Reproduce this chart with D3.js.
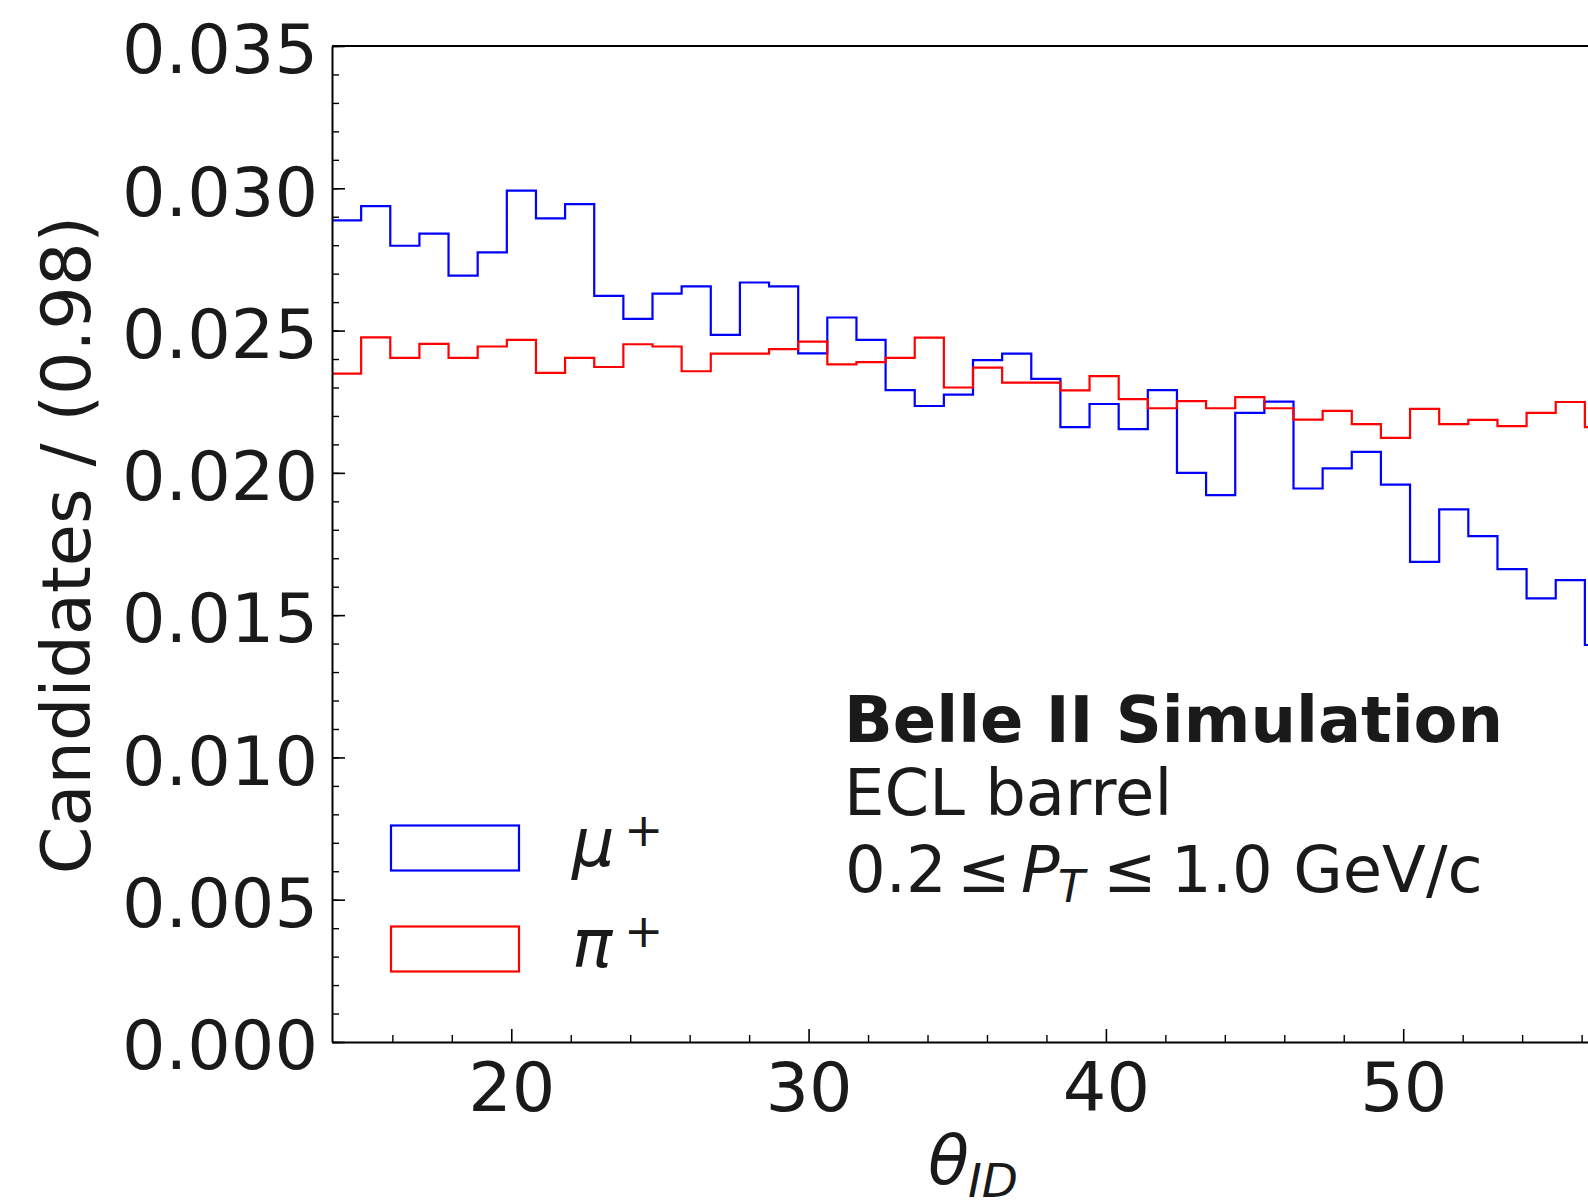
<!DOCTYPE html>
<html>
<head>
<meta charset="utf-8">
<script src="https://cdn.jsdelivr.net/npm/d3@7"></script>
<style>
  body { margin: 0; background: #fff; }
  svg { display: block; font-family: "DejaVu Sans", sans-serif; }
</style>
</head>
<body>
<div id="chart"></div>
<script>
// histogram binning (theta_ID, bin width 0.98)
const binStart = 13.97;
const binWidth = 0.98;

// normalised candidates per bin
const muValues = [
  0.02887, 0.02937, 0.02798, 0.02841, 0.02693, 0.02775, 0.02992, 0.02894, 0.02944, 0.02622,
  0.02541, 0.02630, 0.02655, 0.02485, 0.02669, 0.02655, 0.02420, 0.02546, 0.02467, 0.02291,
  0.02235, 0.02275, 0.02396, 0.02419, 0.02330, 0.02161, 0.02242, 0.02154, 0.02291, 0.02000,
  0.01922, 0.02211, 0.02250, 0.01945, 0.02016, 0.02074, 0.01959, 0.01687, 0.01872, 0.01778,
  0.01662, 0.01559, 0.01623, 0.01395
];
const piValues = [
  0.02349, 0.02476, 0.02404, 0.02453, 0.02404, 0.02444, 0.02467, 0.02351, 0.02404, 0.02372,
  0.02452, 0.02444, 0.02357, 0.02419, 0.02419, 0.02435, 0.02461, 0.02381, 0.02389, 0.02404,
  0.02475, 0.02300, 0.02370, 0.02317, 0.02317, 0.02290, 0.02340, 0.02259, 0.02227, 0.02252,
  0.02227, 0.02266, 0.02227, 0.02187, 0.02218, 0.02171, 0.02123, 0.02225, 0.02171, 0.02186,
  0.02164, 0.02211, 0.02249, 0.02161
];

const xTicks = [20, 30, 40, 50];
const xMinorTicks = [16, 18, 22, 24, 26, 28, 32, 34, 36, 38, 42, 44, 46, 48, 52, 54, 56];
const yTicks = [0, 0.005, 0.010, 0.015, 0.020, 0.025, 0.030, 0.035];
const yMinorTicks = d3.range(0, 0.0351, 0.001);

const series = [
  { name: "mu", values: muValues, color: "#0000ff" },
  { name: "pi", values: piValues, color: "#ff0000" }
];

const width = 1588, height = 1203;
const plot = { left: 332, right: 1614, top: 46, bottom: 1042 };
const fontSize = 68.5;   // tick labels + y title
const noteSize = 64;     // annotation block

const svg = d3.select("#chart").append("svg")
  .attr("width", width)
  .attr("height", height);

const nBins = muValues.length;
const x = d3.scaleLinear()
  .domain([binStart, binStart + nBins * binWidth])
  .range([plot.left, plot.right]);
const y = d3.scaleLinear()
  .domain([0, 0.035])
  .range([plot.bottom, plot.top]);

// step histograms
const line = d3.line()
  .x(d => x(d[0]))
  .y(d => y(d[1]))
  .curve(d3.curveStepAfter);

series.forEach(s => {
  const pts = s.values.map((v, i) => [binStart + i * binWidth, v]);
  pts.push([binStart + nBins * binWidth, s.values[nBins - 1]]);
  svg.append("path")
    .datum(pts)
    .attr("fill", "none")
    .attr("stroke", s.color)
    .attr("stroke-width", 2.2)
    .attr("d", line);
});

// minor ticks (inward)
svg.append("g")
  .attr("transform", `translate(0,${plot.bottom})`)
  .call(d3.axisBottom(x).tickValues(xMinorTicks).tickSizeInner(-7).tickSizeOuter(0).tickFormat(""))
  .call(g => g.select(".domain").remove())
  .call(g => g.selectAll("line").attr("stroke", "#000").attr("stroke-width", 1.4));

svg.append("g")
  .attr("transform", `translate(${plot.left},0)`)
  .call(d3.axisLeft(y).tickValues(yMinorTicks).tickSizeInner(-7).tickSizeOuter(0).tickFormat(""))
  .call(g => g.select(".domain").remove())
  .call(g => g.selectAll("line").attr("stroke", "#000").attr("stroke-width", 1.4));

// major ticks + labels
const xAxisG = svg.append("g")
  .attr("transform", `translate(0,${plot.bottom})`)
  .call(d3.axisBottom(x).tickValues(xTicks).tickSizeInner(-13).tickSizeOuter(0).tickPadding(20));
xAxisG.selectAll("line").attr("stroke", "#000").attr("stroke-width", 1.6);
xAxisG.selectAll("text")
  .attr("fill", "#1a1a1a")
  .attr("font-size", fontSize)
  .attr("font-family", "DejaVu Sans");

const yAxisG = svg.append("g")
  .attr("transform", `translate(${plot.left},0)`)
  .call(d3.axisLeft(y).tickValues(yTicks).tickFormat(d3.format(".3f")).tickSizeInner(-13).tickSizeOuter(0).tickPadding(14));
yAxisG.selectAll("line").attr("stroke", "#000").attr("stroke-width", 1.6);
yAxisG.selectAll("text")
  .attr("fill", "#1a1a1a")
  .attr("font-size", fontSize)
  .attr("font-family", "DejaVu Sans")
  .attr("dy", "0.39em");

svg.selectAll(".domain").attr("stroke", "#000").attr("stroke-width", 2);

// top and right spines
svg.append("line")
  .attr("x1", plot.left).attr("x2", plot.right)
  .attr("y1", plot.top).attr("y2", plot.top)
  .attr("stroke", "#000").attr("stroke-width", 2);
svg.append("line")
  .attr("x1", plot.right).attr("x2", plot.right)
  .attr("y1", plot.top).attr("y2", plot.bottom)
  .attr("stroke", "#000").attr("stroke-width", 2);

// axis titles
svg.append("text")
  .attr("transform", `translate(90,${(plot.top + plot.bottom) / 2 + 1}) rotate(-90)`)
  .attr("text-anchor", "middle")
  .attr("font-size", fontSize)
  .attr("fill", "#1a1a1a")
  .text("Candidates / (0.98)");

const xLabel = svg.append("text")
  .attr("y", 1184)
  .attr("fill", "#1a1a1a")
  .attr("font-size", 67);
xLabel.append("tspan").attr("x", 928).attr("font-style", "italic").text("θ");
xLabel.append("tspan").attr("x", 968).attr("dy", 13).attr("font-size", 47).attr("font-style", "italic").text("ID");

// legend
const legendItems = [
  { label: "μ", color: series[0].color, y: 848 },
  { label: "π", color: series[1].color, y: 949 }
];
const legend = svg.append("g");
legendItems.forEach(d => {
  legend.append("rect")
    .attr("x", 391).attr("y", d.y - 22.5)
    .attr("width", 128).attr("height", 45)
    .attr("fill", "none")
    .attr("stroke", d.color)
    .attr("stroke-width", 2.2);
  const t = legend.append("text")
    .attr("y", d.y + 18)
    .attr("fill", "#1a1a1a")
    .attr("font-size", 67);
  t.append("tspan").attr("x", 572).attr("font-style", "italic").text(d.label);
  t.append("tspan").attr("x", 624).attr("dy", -20).attr("font-size", 47).text("+");
});

// annotation block
const note = svg.append("g").attr("fill", "#1a1a1a").attr("font-size", noteSize);
note.append("text").attr("x", 844).attr("y", 742).attr("font-weight", "bold").text("Belle II Simulation");
note.append("text").attr("x", 844).attr("y", 815).text("ECL barrel");
const ptLine = note.append("text").attr("y", 892);
ptLine.append("tspan").attr("x", 845).text("0.2");
ptLine.append("tspan").attr("x", 957).text("≤");
ptLine.append("tspan").attr("x", 1021).attr("font-style", "italic").text("P");
ptLine.append("tspan").attr("x", 1058).attr("dy", 10).attr("font-size", 44).attr("font-style", "italic").text("T");
ptLine.append("tspan").attr("x", 1103).attr("dy", -10).text("≤");
ptLine.append("tspan").attr("x", 1171).text("1.0 GeV/c");
</script>
</body>
</html>
